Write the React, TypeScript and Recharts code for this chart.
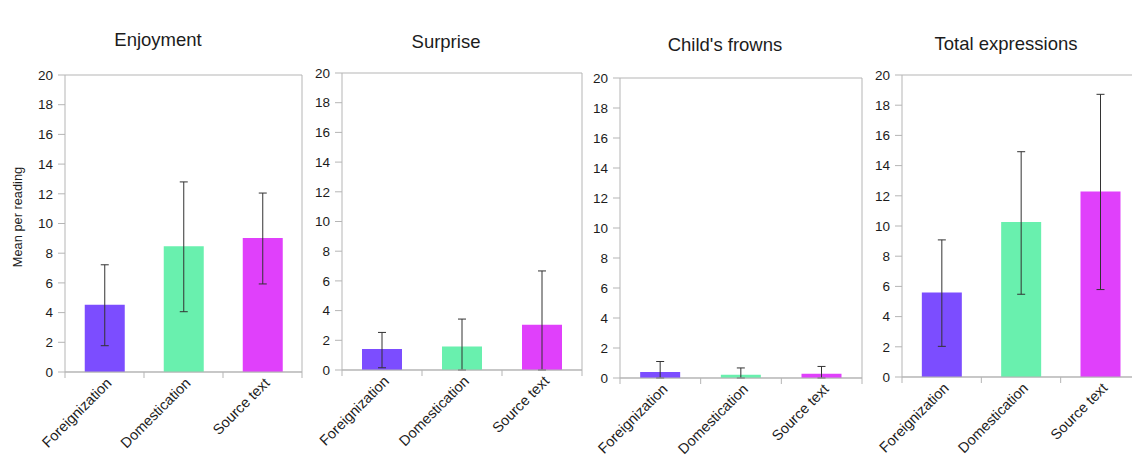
import React from 'react';
import { BarChart, Bar, XAxis, YAxis, CartesianGrid, ErrorBar, Cell } from 'recharts';

// categories and colours shared by all four panels
const categories = ['Foreignization', 'Domestication', 'Source text'];
const barColors = ['#7c4dff', '#69f0ae', '#e040fb'];
const yTicks = [0, 2, 4, 6, 8, 10, 12, 14, 16, 18, 20];

// means and error-bar ends
const enjoymentMean = [4.53, 8.46, 9.02];
const enjoymentHigh = [7.22, 12.8, 12.05];
const enjoymentLow = [1.77, 4.06, 5.93];

const surpriseMean = [1.41, 1.59, 3.05];
const surpriseHigh = [2.53, 3.43, 6.67];
const surpriseLow = [0.15, 0, 0];

const frownsMean = [0.4, 0.22, 0.29];
const frownsHigh = [1.1, 0.67, 0.77];
const frownsLow = [0, 0, 0];

const totalMean = [5.59, 10.26, 12.29];
const totalHigh = [9.08, 14.92, 18.72];
const totalLow = [2.03, 5.48, 5.79];

const FONT = '"Liberation Sans", Arial, sans-serif';
const GRID = '#b5b5b5';
const TEXT = '#1c1c1c';
const H = 459;

const buildRows = (mean: number[], high: number[], low: number[]) =>
  categories.map((name, i) => ({
    name,
    value: mean[i],
    err: [mean[i] - low[i], high[i] - mean[i]],
  }));

const panels = [
  { title: 'Enjoyment', rows: buildRows(enjoymentMean, enjoymentHigh, enjoymentLow),
    left: 0, plotLeft: 65, plotRight: 302, plotTop: 75, plotBottom: 372, titleX: 158, titleY: 46 },
  { title: 'Surprise', rows: buildRows(surpriseMean, surpriseHigh, surpriseLow),
    left: 288, plotLeft: 342, plotRight: 582, plotTop: 73, plotBottom: 370, titleX: 446, titleY: 48 },
  { title: "Child's frowns", rows: buildRows(frownsMean, frownsHigh, frownsLow),
    left: 570, plotLeft: 620, plotRight: 862, plotTop: 78, plotBottom: 378, titleX: 725, titleY: 51 },
  { title: 'Total expressions', rows: buildRows(totalMean, totalHigh, totalLow),
    left: 852, plotLeft: 902, plotRight: 1140, plotTop: 75, plotBottom: 377, titleX: 1006, titleY: 50 },
];

// category label rotated -45deg, plus the small tick marks at band edges
const makeTick = (band: number) => (props: any) => {
  const { x, y, payload, index } = props;
  const tx = x + 8;
  const ty = y + 12;
  return (
    <g>
      <line x1={x - band / 2} x2={x - band / 2} y1={y} y2={y + 6} stroke={GRID} />
      {index === categories.length - 1 && (
        <line x1={x + band / 2} x2={x + band / 2} y1={y} y2={y + 6} stroke={GRID} />
      )}
      <text
        x={tx}
        y={ty}
        transform={`rotate(-45 ${tx} ${ty})`}
        textAnchor="end"
        fontSize={14.5}
        fontFamily={FONT}
        fill={TEXT}
      >
        {payload.value}
      </text>
    </g>
  );
};

const Panel = ({ p }: { p: (typeof panels)[number] }) => {
  const width = p.plotRight + 1 - p.left;
  const band = (p.plotRight - p.plotLeft) / categories.length;
  return (
    <div style={{ position: 'absolute', left: p.left, top: 0 }}>
      <BarChart
        width={width}
        height={H}
        data={p.rows}
        margin={{ top: p.plotTop, right: 0, bottom: 0, left: 0 }}
        barCategoryGap="25%"
      >
        <CartesianGrid vertical={false} stroke={GRID} />
        <XAxis
          dataKey="name"
          height={H - p.plotBottom}
          axisLine={{ stroke: GRID }}
          tickLine={false}
          tickSize={0}
          tickMargin={0}
          interval={0}
          tick={makeTick(band)}
        />
        <YAxis
          yAxisId="l"
          width={p.plotLeft - p.left}
          domain={[0, 20]}
          ticks={yTicks}
          interval={0}
          axisLine={{ stroke: GRID }}
          tickLine={{ stroke: GRID }}
          tickSize={7}
          tickMargin={5}
          tick={{ fontSize: 13.5, fontFamily: FONT, fill: TEXT }}
        />
        <YAxis
          yAxisId="r"
          orientation="right"
          width={1}
          domain={[0, 20]}
          tick={false}
          tickLine={false}
          axisLine={{ stroke: GRID }}
        />
        <Bar yAxisId="l" dataKey="value" isAnimationActive={false}>
          {p.rows.map((r, i) => (
            <Cell key={r.name} fill={barColors[i]} />
          ))}
          <ErrorBar dataKey="err" direction="y" width={4} stroke="#333" strokeWidth={1} />
        </Bar>
      </BarChart>
    </div>
  );
};

export default function App() {
  return (
    <div
      style={{
        position: 'absolute',
        left: 0,
        top: 0,
        width: 1132,
        height: H,
        overflow: 'hidden',
        background: '#fff',
      }}
    >
      {panels.map((p) => (
        <Panel key={p.title} p={p} />
      ))}
      <svg
        width={1132}
        height={H}
        style={{ position: 'absolute', left: 0, top: 0, pointerEvents: 'none' }}
      >
        {panels.map((p) => (
          <text
            key={p.title}
            x={p.titleX}
            y={p.titleY}
            textAnchor="middle"
            fontSize={18.5}
            fontFamily={FONT}
            fill={TEXT}
          >
            {p.title}
          </text>
        ))}
        <text
          x={22}
          y={217}
          transform="rotate(-90 22 217)"
          textAnchor="middle"
          fontSize={12.8}
          fontFamily={FONT}
          fill={TEXT}
        >
          Mean per reading
        </text>
      </svg>
    </div>
  );
}
